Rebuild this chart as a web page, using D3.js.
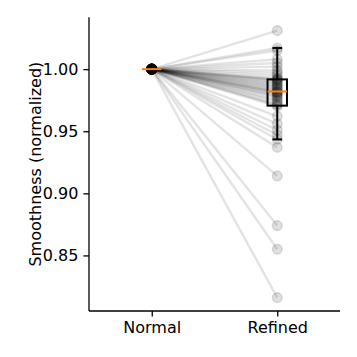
<!DOCTYPE html>
<html>
<head>
<meta charset="utf-8">
<script src="https://cdn.jsdelivr.net/npm/d3@7"></script>
<style>
  body { margin: 0; background: #fff; }
  text { font-family: "DejaVu Sans", sans-serif; }
</style>
</head>
<body>
<svg id="chart" width="357" height="357"></svg>
<script>
"use strict";

// categories and values
const categories = ["Normal", "Refined"];
const normalValues = 1.0;  // every run normalized to 1
const refinedValues = [
  0.816, 0.855, 0.874, 0.914, 0.937, 0.9434, 0.947, 0.951, 0.956, 0.962,
  0.970, 0.9712, 0.972, 0.974, 0.975, 0.977, 0.978, 0.979, 0.980, 0.981,
  0.9815, 0.982, 0.983, 0.984, 0.985, 0.986, 0.987, 0.988, 0.989, 0.990,
  0.991, 0.9915, 0.992, 0.993, 0.995, 0.997, 0.999, 1.002, 1.005, 1.008,
  1.015, 1.017, 1.031
];
const yTicks = [0.85, 0.90, 0.95, 1.00];

const svg = d3.select("#chart");
const m = {left: 89, right: 340, top: 17.3, bottom: 311};

const x = d3.scaleLinear().domain([0.5, 2.5]).range([m.left, m.right]);
let lo = d3.min(refinedValues), hi = d3.max(refinedValues);
let pad = (hi - lo) * 0.05;
const y = d3.scaleLinear().domain([lo - pad, hi + pad]).range([m.bottom, m.top]);

const pairs = refinedValues.map(v => [normalValues, v]);

// pair lines
const line = d3.line().x((d, i) => x(i + 1)).y(d => y(d));
svg.append("g").selectAll("path").data(pairs).join("path")
  .attr("d", d => line(d))
  .attr("fill", "none")
  .attr("stroke", "#000").attr("stroke-opacity", 0.11)
  .attr("stroke-width", 2.4);

// markers
const pts = [];
pairs.forEach(p => p.forEach((v, i) => pts.push({i: i, v: v})));
svg.append("g").selectAll("circle").data(pts).join("circle")
  .attr("cx", d => x(d.i + 1)).attr("cy", d => y(d.v)).attr("r", 4.8)
  .attr("fill", "#000").attr("fill-opacity", 0.12)
  .attr("stroke", "#000").attr("stroke-opacity", 0.12)
  .attr("stroke-width", 1.6);

// boxplots (matplotlib style, whiskers at 1.5 IQR)
function boxStats(vals) {
  let s = vals.slice().sort(d3.ascending);
  let q1 = d3.quantile(s, 0.25), med = d3.quantile(s, 0.5), q3 = d3.quantile(s, 0.75);
  let iqr = q3 - q1;
  let wlo = d3.min(s.filter(v => v >= q1 - 1.5 * iqr));
  let whi = d3.max(s.filter(v => v <= q3 + 1.5 * iqr));
  return {q1, med, q3, wlo, whi};
}
const boxes = [boxStats(refinedValues.map(() => normalValues)), boxStats(refinedValues)];
const bw = 0.155;

const bg = svg.append("g");
boxes.forEach((b, i) => {
  let cx = i + 1;
  let g = bg.append("g").attr("fill", "none").attr("stroke", "#000").attr("stroke-width", 2);
  g.append("rect")
    .attr("x", x(cx - bw / 2)).attr("width", x(cx + bw / 2) - x(cx - bw / 2))
    .attr("y", y(b.q3)).attr("height", y(b.q1) - y(b.q3));
  [[b.q3, b.whi], [b.q1, b.wlo]].forEach(([a, c]) => {
    g.append("line").attr("x1", x(cx)).attr("x2", x(cx)).attr("y1", y(a)).attr("y2", y(c));
    g.append("line").attr("x1", x(cx - bw / 4)).attr("x2", x(cx + bw / 4)).attr("y1", y(c)).attr("y2", y(c));
  });
  g.append("line")
    .attr("x1", x(cx - bw / 2)).attr("x2", x(cx + bw / 2))
    .attr("y1", y(b.med)).attr("y2", y(b.med))
    .attr("stroke", "#ff7f0e");
});

// axes
const yAxis = svg.append("g").attr("transform", `translate(${m.left},0)`)
  .call(d3.axisLeft(y).tickValues(yTicks).tickFormat(d3.format(".2f")).tickSize(5.6).tickPadding(5));
const xAxis = svg.append("g").attr("transform", `translate(0,${m.bottom})`)
  .call(d3.axisBottom(x).tickValues([1, 2]).tickFormat(d => categories[d - 1]).tickSize(5.6).tickPadding(5));
[yAxis, xAxis].forEach(a => {
  a.select(".domain").attr("stroke", "#000").attr("stroke-width", 1.3);
  a.selectAll(".tick line").attr("stroke", "#000").attr("stroke-width", 1.3);
  a.selectAll("text").attr("font-size", 16).attr("fill", "#000")
    .attr("font-family", "DejaVu Sans, sans-serif");
});
// matplotlib spines have no end ticks
yAxis.select(".domain").attr("d", `M0,${m.top}V${m.bottom}`);
xAxis.select(".domain").attr("d", `M${m.left},0H${m.right}`);

svg.append("text")
  .attr("transform", `translate(41,${(m.top + m.bottom) / 2}) rotate(-90)`)
  .attr("text-anchor", "middle")
  .attr("font-size", 16)
  .text("Smoothness (normalized)");
</script>
</body>
</html>
